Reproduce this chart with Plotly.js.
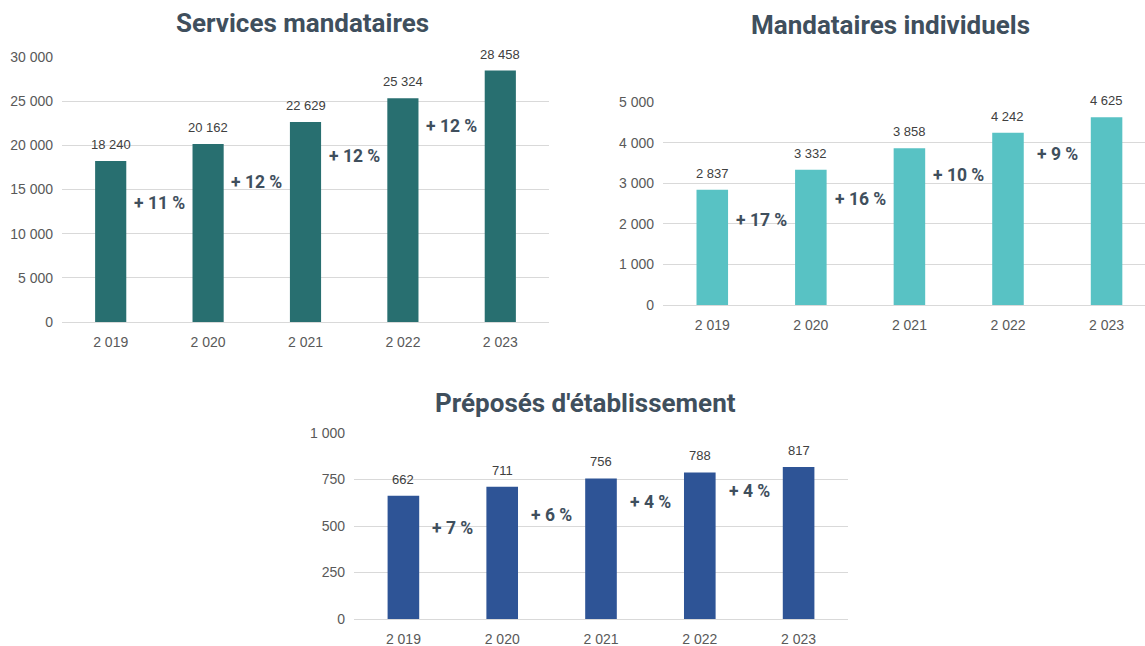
<!DOCTYPE html>
<html>
<head>
<meta charset="utf-8">
<script src="https://cdn.plot.ly/plotly-3.0.1.min.js"></script>
<style>
  html, body { margin: 0; padding: 0; background: #fff; }
  #chart { width: 1145px; height: 646px; }
</style>
</head>
<body>
<div id="chart"></div>
<script>
// data
var years = ["2 019", "2 020", "2 021", "2 022", "2 023"];
var servicesMandataires = [18240, 20162, 22629, 25324, 28458];
var mandatairesIndividuels = [2837, 3332, 3858, 4242, 4625];
var preposesEtablissement = [662, 711, 756, 788, 817];

var titles = ["Services mandataires", "Mandataires individuels", "Préposés d'établissement"];
var colors = ["#286f70", "#58c2c4", "#2e5496"];

var W = 1145, H = 646;
function px(x) { return x / W; }
function py(y) { return 1 - y / H; }

var tickFont = { family: "Liberation Sans Narrow, Arial Narrow, Liberation Sans, sans-serif", size: 14, color: "#595959" };
var titleColor = "#3f4f5d";

var panels = [
    { values: servicesMandataires, x0: 62, x1: 549, yTop: 57, yBot: 322, xr: [-0.5, 4.5], yr: [0, 30000], dtick: 5000, titleX: 302, titleY: 23 },
    { values: mandatairesIndividuels, x0: 663, x1: 1145, yTop: 102, yBot: 305, xr: [-0.5, 4.39], yr: [0, 5000], dtick: 1000, titleX: 890, titleY: 25 },
    { values: preposesEtablissement, x0: 354, x1: 848, yTop: 433, yBot: 619, xr: [-0.5, 4.5], yr: [0, 1000], dtick: 250, titleX: 585, titleY: 403 }
];

var fmt = function (v) { return String(v).replace(/\B(?=(\d{3})+(?!\d))/g, " "); };

var data = [];
var layout = {
    width: W, height: H,
    margin: { l: 0, r: 0, t: 0, b: 0 },
    paper_bgcolor: "#fff", plot_bgcolor: "#fff",
    showlegend: false,
    separators: ", ",
    annotations: []
};

panels.forEach(function (p, k) {
    var n = k === 0 ? "" : String(k + 1);
    data.push({
        type: "bar",
        x: years,
        y: p.values,
        xaxis: "x" + n,
        yaxis: "y" + n,
        width: 0.32,
        marker: { color: colors[k] },
        hoverinfo: "x+y"
    });

    layout["xaxis" + n] = {
        domain: [px(p.x0), px(p.x1)],
        anchor: "y" + n,
        type: "category",
        range: p.xr,
        showgrid: false,
        zeroline: false,
        showline: false,
        ticks: "",
        tickfont: tickFont,
        ticklabelstandoff: 10,
        fixedrange: true
    };
    layout["yaxis" + n] = {
        domain: [py(p.yBot), py(p.yTop)],
        anchor: "x" + n,
        range: p.yr,
        dtick: p.dtick,
        tickformat: ",d",
        showgrid: true,
        gridcolor: "#d9d9d9",
        gridwidth: 1,
        zeroline: true,
        zerolinecolor: "#d9d9d9",
        zerolinewidth: 1,
        showline: false,
        ticks: "",
        tickfont: tickFont,
        ticklabelstandoff: 8,
        fixedrange: true
    };

    // chart title
    layout.annotations.push({
        xref: "paper", yref: "paper",
        x: px(p.titleX), y: py(p.titleY),
        xanchor: "center", yanchor: "middle",
        showarrow: false,
        text: "<b>" + titles[k] + "</b>",
        font: { family: "Roboto, sans-serif", size: 26, color: titleColor }
    });

    // value labels above bars
    p.values.forEach(function (v, i) {
        layout.annotations.push({
            xref: "x" + n, yref: "y" + n,
            x: i, y: v,
            xanchor: "center", yanchor: "bottom",
            yshift: 7,
            showarrow: false,
            text: fmt(v),
            font: { family: tickFont.family, size: 13, color: "#404040" }
        });
    });

    // growth labels between bars
    for (var i = 0; i < p.values.length - 1; i++) {
        var pct = Math.round((p.values[i + 1] / p.values[i] - 1) * 100);
        layout.annotations.push({
            xref: "x" + n, yref: "y" + n,
            x: i + 0.5,
            y: p.values[i] * (0.74 + 0.045 * i),
            xanchor: "center", yanchor: "middle",
            showarrow: false,
            text: "<b>+ " + pct + " %</b>",
            font: { family: "Roboto, sans-serif", size: 17.5, color: titleColor }
        });
    }
});

Plotly.newPlot("chart", data, layout, { displayModeBar: false, staticPlot: true });
</script>
</body>
</html>
